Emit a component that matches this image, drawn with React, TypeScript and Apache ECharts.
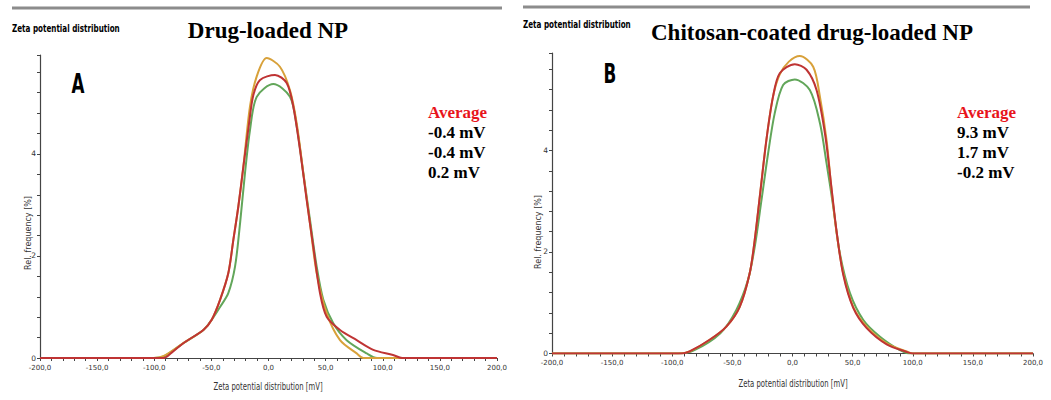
import React, { useEffect, useRef } from "react";
import * as echarts from "echarts";

// Panel A: Drug-loaded NP  [zeta potential (mV), rel. frequency (%)]
const drugYellow: number[][] = [
  [-200, 0], [-101, 0], [-91.6, 0.04], [-74.6, 0.29], [-57, 0.55], [-49.7, 0.75], [-42.4, 1.14],
  [-35.2, 1.66], [-30.8, 2.31], [-26.4, 2.97], [-22, 3.75], [-16.2, 4.93], [-10.3, 5.52],
  [-1.6, 5.88], [10, 5.71], [18.8, 5.25], [24.7, 4.6], [30.5, 3.62], [36.3, 2.64], [42.2, 1.66],
  [50.9, 0.88], [62.6, 0.35], [77.2, 0.09], [83, 0], [200, 0],
];
const drugGreen: number[][] = [
  [-200, 0], [-100, 0], [-91.6, 0.03], [-74.6, 0.29], [-57, 0.55], [-49.7, 0.75], [-42.4, 1.0],
  [-35.2, 1.27], [-29.3, 1.79], [-24.9, 2.64], [-20.6, 3.62], [-16.2, 4.47], [-10.3, 5.12],
  [4.2, 5.37], [18.8, 5.12], [24.7, 4.54], [30.5, 3.62], [36.3, 2.71], [42.2, 1.79], [48, 1.14],
  [56.7, 0.68], [68.4, 0.35], [86, 0.09], [95, 0], [200, 0],
];
const drugRed: number[][] = [
  [-200, 0], [-92, 0], [-85, 0.1], [-74.6, 0.29], [-57, 0.55], [-49.7, 0.75], [-42.4, 1.14],
  [-35.2, 1.66], [-30.8, 2.31], [-26.4, 2.97], [-22, 3.75], [-17, 4.6], [-13.3, 5.15], [-7.4, 5.45],
  [5.7, 5.55], [15.9, 5.39], [21.7, 4.93], [27.6, 4.08], [33.4, 3.1], [39.2, 2.18], [45.1, 1.27],
  [50.9, 0.81], [62.6, 0.55], [77.2, 0.35], [91.7, 0.16], [109, 0.06], [117, 0], [200, 0],
];

// Panel B: Chitosan-coated drug-loaded NP
const chitoYellow: number[][] = [
  [-200, 0], [-95, 0], [-85.6, 0.04], [-68.9, 0.27], [-55, 0.53], [-43.9, 0.92], [-35.6, 1.58],
  [-31.4, 2.24], [-27.2, 3.09], [-21.7, 4.21], [-16.2, 5.06], [-10.6, 5.5], [-3, 5.75], [6.1, 5.86],
  [17.2, 5.65], [22.8, 5.06], [28.3, 4.21], [32.5, 3.22], [36.7, 2.37], [42.2, 1.58], [50.5, 0.92],
  [61.7, 0.53], [78.3, 0.2], [95, 0.04], [100, 0], [200, 0],
];
const chitoGreen: number[][] = [
  [-200, 0], [-95, 0], [-82, 0.06], [-60, 0.4], [-46.7, 0.86], [-37, 1.45], [-31.4, 2.1],
  [-25.8, 3.02], [-20.3, 3.94], [-14.8, 4.73], [-7.8, 5.29], [1.9, 5.4], [14.4, 5.19], [22.8, 4.54],
  [28.3, 3.75], [33.9, 2.89], [39.4, 1.97], [47.8, 1.19], [58.9, 0.66], [72.8, 0.33], [89, 0.07],
  [97, 0], [200, 0],
];
const chitoRed: number[][] = [
  [-200, 0], [-92, 0], [-85.6, 0.04], [-68.9, 0.27], [-55, 0.53], [-43.9, 0.92], [-35.6, 1.58],
  [-31.4, 2.24], [-27.2, 3.09], [-21.7, 4.21], [-16.2, 5.06], [-10.6, 5.52], [1.9, 5.7], [11.7, 5.59],
  [20, 5.19], [27.2, 4.3], [32.5, 3.25], [36.7, 2.4], [42.2, 1.55], [50.5, 0.9], [61.7, 0.5],
  [78.3, 0.18], [95, 0.03], [100, 0], [200, 0],
];

const panelTitles = ["Drug-loaded NP", "Chitosan-coated drug-loaded NP"];
const panelLetters = ["A", "B"];
const averagesA = ["-0.4 mV", "-0.4 mV", "0.2 mV"];
const averagesB = ["9.3 mV", "1.7 mV", "-0.2 mV"];
const yLabelValues = [0, 2, 4];

const COLORS = { yellow: "#d8a13a", green: "#62a65a", red: "#bf3434" };
const SANS = "'DejaVu Sans', 'Liberation Sans', sans-serif";
const SERIF = "'Liberation Serif', 'DejaVu Serif', serif";

export default function App() {
  const ref = useRef<HTMLDivElement>(null);
  useEffect(() => {
    if (!ref.current) return;
    const chart = echarts.init(ref.current, undefined, { renderer: "svg" });

    const xAxisCfg = (gridIndex: number) => ({
      type: "value" as const,
      gridIndex,
      position: "bottom" as const,
      min: -200,
      max: 200,
      interval: 10,
      axisLine: { show: true, onZero: false, lineStyle: { color: "#444", width: 1 } },
      axisTick: { show: true, length: 3, lineStyle: { color: "#444" } },
      splitLine: { show: false },
      axisLabel: {
        interval: 0,
        margin: 6,
        fontSize: 7,
        fontFamily: SANS,
        color: "#333",
        formatter: (v: number) =>
          Math.abs(v % 50) < 1e-6 ? v.toFixed(1).replace(".", ",") : "",
      },
    });
    const yAxisCfg = (gridIndex: number, max: number) => ({
      type: "value" as const,
      gridIndex,
      position: "left" as const,
      min: 0,
      max,
      interval: 0.4,
      axisLine: { show: true, onZero: false, lineStyle: { color: "#444", width: 1.2 } },
      axisTick: { show: true, length: 3, lineStyle: { color: "#444" } },
      splitLine: { show: false },
      axisLabel: {
        margin: 4,
        fontSize: 7.5,
        fontFamily: SANS,
        color: "#333",
        formatter: (v: number) => {
          const r = Math.round(v);
          return Math.abs(v - r) < 1e-6 && yLabelValues.includes(r) ? String(r) : "";
        },
      },
    });

    const mkSeries = (data: number[][], color: string, idx: number) => ({
      type: "line" as const,
      xAxisIndex: idx,
      yAxisIndex: idx,
      data,
      smooth: 0.3,
      showSymbol: false,
      lineStyle: { color, width: 2 },
    });

    const txt = (text: string, x: number, y: number, o: any = {}) => ({
      type: "text",
      x,
      y,
      rotation: o.rotation || 0,
      scaleX: o.scaleX || 1,
      style: {
        text,
        fill: o.fill || "#000",
        fontSize: o.fontSize || 10,
        fontWeight: o.fontWeight || "normal",
        fontFamily: o.fontFamily || SANS,
        align: o.align || "left",
        verticalAlign: "middle",
      },
    });

    const graphic: any[] = [
      { type: "rect", shape: { x: 12, y: 6.5, width: 490, height: 3 }, style: { fill: "#8c8c8c" } },
      { type: "rect", shape: { x: 523, y: 5.5, width: 507, height: 3 }, style: { fill: "#8c8c8c" } },
      txt("Zeta potential distribution", 12, 29, { fontSize: 10, fontWeight: "bold", scaleX: 0.72 }),
      txt("Zeta potential distribution", 523, 25, { fontSize: 10, fontWeight: "bold", scaleX: 0.72 }),
      txt(panelTitles[0], 268, 30, { fontSize: 23, fontWeight: "bold", fontFamily: SERIF, align: "center" }),
      txt(panelTitles[1], 812, 32, { fontSize: 23, fontWeight: "bold", fontFamily: SERIF, align: "center" }),
      txt(panelLetters[0], 78, 83, { fontSize: 27, fontWeight: "bold", align: "center", scaleX: 0.62 }),
      txt(panelLetters[1], 610, 73, { fontSize: 27, fontWeight: "bold", align: "center", scaleX: 0.62 }),
      txt("Rel. frequency [%]", 28, 233, { fontSize: 8, rotation: Math.PI / 2, align: "center", fill: "#333" }),
      txt("Rel. frequency [%]", 538, 232, { fontSize: 8, rotation: Math.PI / 2, align: "center", fill: "#333" }),
      txt("Zeta potential distribution [mV]", 268, 387, { fontSize: 10, align: "center", fill: "#333", scaleX: 0.69 }),
      txt("Zeta potential distribution [mV]", 793, 384, { fontSize: 10, align: "center", fill: "#333", scaleX: 0.69 }),
      txt("Average", 428, 112, { fontSize: 17, fontWeight: "bold", fontFamily: SERIF, fill: "#e8141c" }),
      txt("Average", 957, 112, { fontSize: 17, fontWeight: "bold", fontFamily: SERIF, fill: "#e8141c" }),
    ];
    averagesA.forEach((s, i) =>
      graphic.push(txt(s, 428, 132 + i * 20, { fontSize: 17, fontWeight: "bold", fontFamily: SERIF }))
    );
    averagesB.forEach((s, i) =>
      graphic.push(txt(s, 957, 132 + i * 20, { fontSize: 17, fontWeight: "bold", fontFamily: SERIF }))
    );

    chart.setOption({
      animation: false,
      backgroundColor: "#fff",
      grid: [
        { left: 40, top: 55, width: 457, height: 303 },
        { left: 552, top: 53, width: 481, height: 300.5 },
      ],
      xAxis: [xAxisCfg(0), xAxisCfg(1)],
      yAxis: [yAxisCfg(0, 5.94), yAxisCfg(1, 5.92)],
      series: [
        mkSeries(drugGreen, COLORS.green, 0),
        mkSeries(drugYellow, COLORS.yellow, 0),
        mkSeries(drugRed, COLORS.red, 0),
        mkSeries(chitoGreen, COLORS.green, 1),
        mkSeries(chitoYellow, COLORS.yellow, 1),
        mkSeries(chitoRed, COLORS.red, 1),
      ],
      graphic,
    });
    return () => chart.dispose();
  }, []);

  return (
    <div
      ref={ref}
      style={{ position: "fixed", left: 0, top: 0, width: 1051, height: 400, background: "#fff" }}
    />
  );
}
